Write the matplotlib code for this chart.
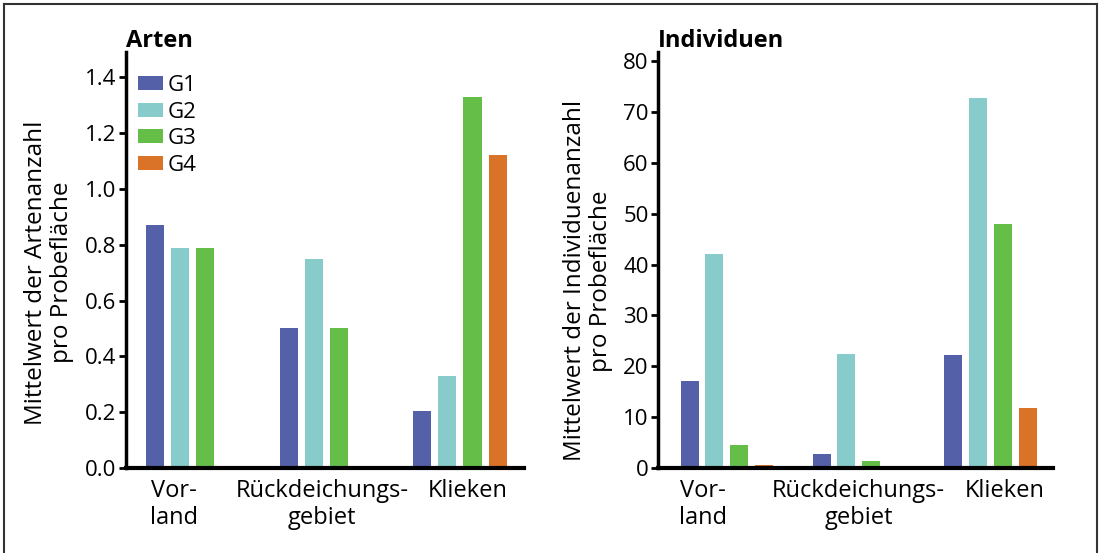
import matplotlib
matplotlib.use('Agg')
import matplotlib.pyplot as plt
import numpy as np
from matplotlib.lines import Line2D

plt.rcParams['font.family'] = ['Open Sans', 'DejaVu Sans']

# Daten
gruppen = ['G1', 'G2', 'G3', 'G4']
farben = ['#5460A8', '#87CBCA', '#64BE48', '#DA7228']
kategorien = ['Vor-\nland', 'Rückdeichungs-\ngebiet', 'Klieken']

arten = {
    'G1': [0.87, 0.50, 0.205],
    'G2': [0.79, 0.75, 0.33],
    'G3': [0.79, 0.50, 1.33],
    'G4': [0.0, 0.0, 1.12],
}
individuen = {
    'G1': [17.2, 2.85, 22.3],
    'G2': [42.0, 22.5, 72.7],
    'G3': [4.6, 1.45, 47.9],
    'G4': [0.5, 0.0, 11.9],
}

fig = plt.figure(figsize=(11.03, 5.53), dpi=100)
ax1 = fig.add_axes([0.1142, 0.1537, 0.3609, 0.752])
ax2 = fig.add_axes([0.5968, 0.1537, 0.3575, 0.752])

x = np.arange(len(kategorien))
pitch = 0.188
breite = 0.136


def balken(ax, werte):
    for i, g in enumerate(gruppen):
        pos = x + (i - 1.5) * pitch
        vals = np.array(werte[g])
        mask = vals > 0
        ax.bar(pos[mask], vals[mask], width=breite, color=farben[i], label=g)


def stil(ax, titel, ylabel, label_x, label_y, tick_pos):
    for s in ['top', 'right']:
        ax.spines[s].set_visible(False)
    ax.spines['left'].set_linewidth(2.5)
    ax.spines['bottom'].set_linewidth(3)
    ax.tick_params(axis='y', length=5, width=2, labelsize=16, pad=2)
    ax.tick_params(axis='x', length=0, labelsize=17, pad=8)
    ax.set_xticks(tick_pos)
    ax.set_xticklabels(kategorien, linespacing=1.15)
    ax.set_ylabel(ylabel, fontsize=17.5, linespacing=1.15)
    ax.yaxis.set_label_coords(label_x, label_y)
    ax.text(0.0, 0.998, titel, transform=ax.transAxes, fontsize=17,
            fontweight='bold', ha='left', va='bottom')


# Linkes Panel - Arten
balken(ax1, arten)
ax1.set_xlim(-0.5, 2.48)
ax1.set_ylim(0, 1.49)
ax1.set_yticks(np.arange(0, 1.41, 0.2))
ax1.set_yticklabels([f'{v:.1f}' for v in np.arange(0, 1.41, 0.2)])
stil(ax1, 'Arten', 'Mittelwert der Artenanzahl\npro Probefläche', -0.13, 0.47,
     [-0.14, 0.97, 2.06])
ax1.legend(loc='upper left', bbox_to_anchor=(0.03, 0.945), frameon=False,
           fontsize=16, handlelength=1.15, handleheight=0.6,
           labelspacing=0.25, handletextpad=0.2, borderpad=0,
           borderaxespad=0)

# Rechtes Panel - Individuen
balken(ax2, individuen)
ax2.set_xlim(-0.52, 2.47)
ax2.set_ylim(0, 81.8)
ax2.set_yticks(np.arange(0, 81, 10))
stil(ax2, 'Individuen', 'Mittelwert der Individuenanzahl\npro Probefläche',
     -0.114, 0.45, [-0.18, 1.0, 2.11])

# Rahmen
W, H = 1103, 553
for xs, ys in [([3.5 / W, 3.5 / W], [0, 1 - 4 / H]),
               ([3.5 / W, 1097 / W], [1 - 4 / H, 1 - 4 / H]),
               ([1097 / W, 1097 / W], [0, 1 - 4 / H])]:
    fig.add_artist(Line2D(xs, ys, transform=fig.transFigure, color='#333333', lw=1.5))

fig.savefig('out.png', dpi=100)
